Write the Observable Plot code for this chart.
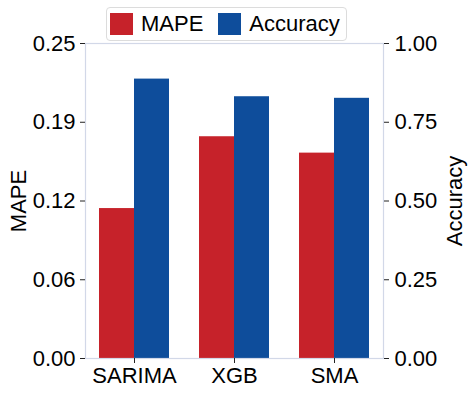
<!DOCTYPE html>
<html><head><meta charset="utf-8">
<script src="https://cdn.jsdelivr.net/npm/d3@7"></script>
<script src="https://cdn.jsdelivr.net/npm/@observablehq/plot@0.6"></script>
<style>
body{margin:0;background:#fff;font-family:"Liberation Sans",Arial,sans-serif;}
#legend{position:relative;width:469px;height:41px;}
.box{position:absolute;left:106px;top:7px;width:241px;height:34px;border:1px solid #dcdcdc;border-radius:4px;box-sizing:border-box;display:flex;align-items:center;font-size:22px;color:#000;padding-left:3px;}
.sw{width:23px;height:22px;display:inline-block;flex:none;}
.lab{margin-left:8px;}
#chart svg{overflow:visible;display:block;}
</style></head><body>
<div id="legend"></div><div id="chart"></div>
<script>
const categories = ["SARIMA", "XGB", "SMA"];
const seriesNames = ["MAPE", "Accuracy"];
const seriesColors = ["#c6222a", "#0e4d9b"];
const mapeValues = [0.119, 0.176, 0.163];
const accuracyValues = [0.887, 0.831, 0.826];
const mapeMax = 0.25;
const accuracyMax = 1.0;
const mapeTicks = [0, 0.0625, 0.125, 0.1875, 0.25];
const mapeTickLabels = ["0.00", "0.06", "0.12", "0.19", "0.25"];
const accuracyTicks = [0, 0.25, 0.5, 0.75, 1.0];
const accuracyTickLabels = ["0.00", "0.25", "0.50", "0.75", "1.00"];

const ratio = mapeMax / accuracyMax;
const mapeRows = categories.map((c, i) => ({category: c, series: "MAPE", y: mapeValues[i]}));
const accRows = categories.map((c, i) => ({category: c, series: "Accuracy", y: accuracyValues[i] * ratio}));
const mapeLabelMap = new Map(mapeTicks.map((t, i) => [t, mapeTickLabels[i]]));
const accPositions = accuracyTicks.map(t => t * ratio);
const accLabelMap = new Map(accPositions.map((t, i) => [t, accuracyTickLabels[i]]));

// legend
const box = document.createElement("div");
box.className = "box";
seriesNames.forEach((s, i) => {
  const sw = document.createElement("span");
  sw.className = "sw";
  sw.style.background = seriesColors[i];
  if (i > 0) sw.style.marginLeft = "15px";
  const t = document.createElement("span");
  t.className = "lab";
  t.textContent = s;
  box.appendChild(sw); box.appendChild(t);
});
document.getElementById("legend").appendChild(box);

const font = "'Liberation Sans', Arial, sans-serif";
function makePlot(half) {
  return Plot.plot({
    width: 469, height: 354,
    marginTop: 2, marginBottom: 37, marginLeft: 85, marginRight: 86,
    style: {fontFamily: font, fontSize: "22px", color: "#000", background: "transparent", overflow: "visible"},
    x: {domain: categories, paddingInner: 0.3, paddingOuter: 0.13, axis: null},
    y: {domain: [0, mapeMax], axis: null},
    color: {domain: seriesNames, range: seriesColors},
    marks: [
      Plot.barY(mapeRows, {x: "category", y: "y", fill: "series", insetLeft: 0, insetRight: half}),
      Plot.barY(accRows, {x: "category", y: "y", fill: "series", insetLeft: half, insetRight: 0}),
      Plot.frame({stroke: "#d2d8e8", strokeWidth: 1.2}),
      Plot.axisY(mapeTicks, {anchor: "left", tickFormat: d => mapeLabelMap.get(d), tickSize: 5, tickPadding: 5, label: "MAPE", labelAnchor: "center", labelOffset: 75, labelArrow: "none", fontSize: 22, stroke: "#222"}),
      Plot.axisY(accPositions, {anchor: "right", tickFormat: d => accLabelMap.get(d), tickSize: 5, tickPadding: 6, label: "Accuracy", labelAnchor: "center", labelOffset: 78, labelArrow: "none", fontSize: 22, stroke: "#222"}),
      Plot.axisX({anchor: "bottom", tickSize: 5, tickPadding: 4, label: null, fontSize: 22, stroke: "#222"})
    ]
  });
}
const probe = makePlot(0);
const bw = probe.scale("x").bandwidth;
const plot = makePlot(bw / 2);
document.getElementById("chart").appendChild(plot);
</script>
</body></html>
